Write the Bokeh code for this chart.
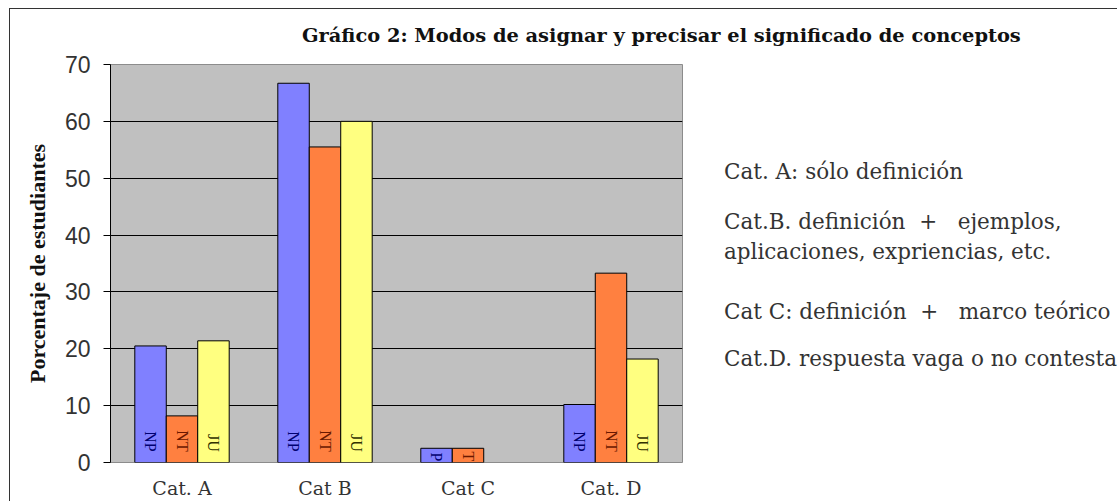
import math
from bokeh.plotting import figure
from bokeh.layouts import column, row
from bokeh.models import ColumnDataSource, FactorRange, Range1d, FixedTicker
from bokeh.transform import dodge
from bokeh.embed import file_html
from bokeh.resources import INLINE
from bokeh.core.properties import value

# ---- data ----
categories = ["Cat. A", "Cat B", "Cat C", "Cat. D"]
series = ["NP", "NT", "JU"]
np_values = [20.5, 66.7, 2.5, 10.2]
nt_values = [8.2, 55.5, 2.5, 33.3]
ju_values = [21.4, 60.0, 0.0, 18.2]
np_labels = ["NP", "NP", "P", "NP"]
nt_labels = ["NT", "NT", "T", "NT"]
ju_labels = ["JU", "JU", "", "JU"]
y_ticks = [0, 10, 20, 30, 40, 50, 60, 70]

title_text = "Gráfico 2: Modos de asignar y precisar el significado de conceptos"
y_title = "Porcentaje de estudiantes"
NB = "\u00a0"
legend_lines = [
    "Cat. A: sólo definición",
    "Cat.B. definición" + NB * 2 + "+" + NB * 3 + "ejemplos,",
    "aplicaciones, expriencias, etc.",
    "Cat C: definición" + NB * 2 + "+" + NB * 3 + "marco teórico",
    "Cat.D. respuesta vaga o no contesta",
]

TOTAL_W = 1107
HEAD_H = 40
MAIN_W = 690
BODY_H = 452
TOP_B = 15
BOT_B = 35

# ---- title strip ----
ph = figure(width=TOTAL_W, height=HEAD_H, x_range=Range1d(0, TOTAL_W), y_range=Range1d(HEAD_H, 0),
            x_axis_type=None, y_axis_type=None, min_border=0, outline_line_color=None,
            title=None, output_backend="svg", toolbar_location=None)
ph.text(x=[291.5], y=[25.5], text=[title_text], text_font=value("DejaVu Serif"),
        text_font_style="bold", text_font_size="19.4px", text_color="#111111",
        text_align="left", text_baseline="alphabetic")

# ---- main chart ----
p = figure(
    x_range=FactorRange(*categories, range_padding=0),
    y_range=Range1d(0, 70),
    width=MAIN_W, height=BODY_H,
    output_backend="svg", toolbar_location=None, title=None,
    min_border_left=100, min_border_top=TOP_B,
    min_border_right=18, min_border_bottom=BOT_B,
)
p.background_fill_color = "#C0C0C0"
p.border_fill_color = "white"
p.outline_line_color = "#8c8c8c"
p.xgrid.grid_line_color = None
p.ygrid.grid_line_color = "black"
p.ygrid.grid_line_width = 1

p.yaxis.ticker = FixedTicker(ticks=y_ticks)
p.yaxis.axis_line_color = "black"
p.yaxis.major_tick_line_color = "black"
p.yaxis.major_tick_out = 7
p.yaxis.major_tick_in = 0
p.yaxis.minor_tick_line_color = None
p.yaxis.major_label_text_font = "Liberation Sans"
p.yaxis.major_label_text_font_size = "23px"
p.yaxis.major_label_text_color = "#333333"
p.yaxis.major_label_standoff = 13
p.yaxis.axis_label = y_title
p.yaxis.axis_label_text_font = "Liberation Serif"
p.yaxis.axis_label_text_font_style = "bold"
p.yaxis.axis_label_text_font_size = "22px"
p.yaxis.axis_label_text_color = "#111111"
p.yaxis.axis_label_standoff = 12

p.xaxis.axis_line_color = None
p.xaxis.major_tick_line_color = None
p.xaxis.major_label_text_font = "DejaVu Serif"
p.xaxis.major_label_text_font_size = "19px"
p.xaxis.major_label_text_color = "#333333"
p.xaxis.major_label_standoff = 8

bar_specs = [
    (np_values, np_labels, -0.22, "#8080FF", "#000070"),
    (nt_values, nt_labels, 0.0, "#FF8040", "#6a1800"),
    (ju_values, ju_labels, 0.22, "#FFFF80", "#303000"),
]
for vals, labs, off, color, tcolor in bar_specs:
    keep = [i for i, v in enumerate(vals) if v > 0]
    src = ColumnDataSource(dict(
        cat=[categories[i] for i in keep],
        val=[vals[i] for i in keep],
        lab=[labs[i] for i in keep],
        ly=[1.9 if vals[i] > 5 else 0.2 for i in keep],
    ))
    p.vbar(x=dodge("cat", off, range=p.x_range), top="val", width=0.22,
           fill_color=color, line_color="black", line_width=1, source=src)
    p.text(x=dodge("cat", off, range=p.x_range), y="ly", text="lab",
           angle=-math.pi / 2, text_align="right", text_baseline="middle",
           text_font=value("Liberation Serif"), text_font_size="16px",
           text_color=tcolor, source=src)

# ---- notes panel (same vertical scale as the chart) ----
p2 = figure(width=TOTAL_W - MAIN_W, height=BODY_H, x_range=Range1d(0, TOTAL_W - MAIN_W),
            y_range=Range1d(0, 70), x_axis_type=None, y_axis_type=None,
            min_border_left=0, min_border_right=0,
            min_border_top=TOP_B, min_border_bottom=BOT_B,
            outline_line_color=None, title=None, output_backend="svg", toolbar_location=None)
note_x = [23.5] * len(legend_lines)
note_y = [51.1, 42.35, 37.15, 26.6, 18.32]
p2.text(x=note_x, y=note_y, text=legend_lines, text_font=value("DejaVu Serif"),
        text_font_size="21.5px", text_color="#333333", text_align="left",
        text_baseline="alphabetic")

root = column(ph, row(p, p2),
              styles={"position": "relative", "left": "9px", "top": "8px",
                      "border-left": "1.5px solid #333333",
                      "border-top": "1.5px solid #333333"})

open("out.html", "w").write(file_html(root, INLINE))
